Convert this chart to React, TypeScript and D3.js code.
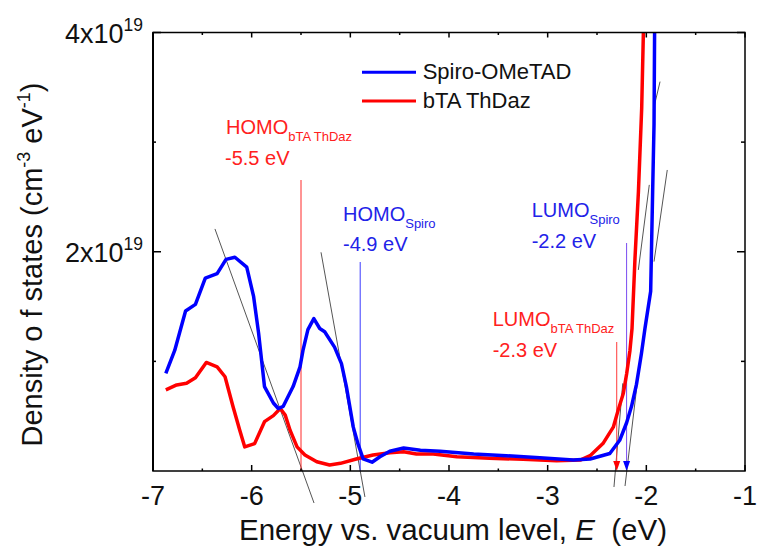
import React from "react";
import * as d3 from "d3";

// Density of states vs. energy (units of 1e19 cm^-3 eV^-1)
const spiro: [number, number][] = [
  [-6.87, 0.89], [-6.78, 1.1], [-6.67, 1.46], [-6.57, 1.52], [-6.47, 1.76],
  [-6.35, 1.8], [-6.26, 1.93], [-6.17, 1.95], [-6.05, 1.86], [-5.98, 1.59],
  [-5.93, 1.26], [-5.87, 0.77], [-5.78, 0.62], [-5.73, 0.57], [-5.68, 0.59],
  [-5.58, 0.77], [-5.51, 0.95], [-5.48, 1.1], [-5.43, 1.29], [-5.37, 1.39],
  [-5.31, 1.3], [-5.26, 1.27], [-5.16, 1.13], [-5.09, 0.98], [-5.04, 0.77],
  [-4.97, 0.4], [-4.92, 0.24], [-4.87, 0.11], [-4.78, 0.08], [-4.7, 0.13],
  [-4.6, 0.18], [-4.46, 0.21], [-4.29, 0.19], [-4.09, 0.18], [-3.75, 0.155],
  [-3.42, 0.14], [-3.08, 0.12], [-2.74, 0.1], [-2.57, 0.11], [-2.37, 0.16],
  [-2.27, 0.28], [-2.2, 0.44], [-2.15, 0.59], [-2.1, 0.79], [-2.05, 1.07],
  [-2.014, 1.3], [-1.956, 1.64], [-1.936, 2.55], [-1.922, 3.16], [-1.915, 4.2],
];

const bta: [number, number][] = [
  [-6.87, 0.74], [-6.76, 0.785], [-6.66, 0.8], [-6.57, 0.85], [-6.46, 0.99],
  [-6.35, 0.95], [-6.27, 0.86], [-6.19, 0.59], [-6.12, 0.37], [-6.07, 0.22],
  [-5.97, 0.25], [-5.87, 0.45], [-5.78, 0.505], [-5.71, 0.57], [-5.66, 0.51],
  [-5.61, 0.37], [-5.54, 0.22], [-5.46, 0.146], [-5.34, 0.085], [-5.21, 0.055],
  [-5.1, 0.07], [-4.94, 0.11], [-4.77, 0.146], [-4.6, 0.167], [-4.46, 0.176],
  [-4.33, 0.155], [-4.16, 0.155], [-3.92, 0.13], [-3.59, 0.116], [-3.25, 0.107],
  [-2.91, 0.094], [-2.67, 0.1], [-2.57, 0.14], [-2.44, 0.25], [-2.335, 0.4],
  [-2.284, 0.56], [-2.233, 0.71], [-2.199, 0.89], [-2.166, 1.1], [-2.145, 1.3],
  [-2.115, 1.94], [-2.08, 2.55], [-2.047, 3.31], [-2.025, 4.2],
];

// Linear extrapolations used to locate the band edges
const tangents: [[number, number], [number, number]][] = [
  [[-6.372, 2.208], [-5.368, -0.292]],
  [[-5.297, 1.995], [-4.852, -0.237]],
  [[-2.239, 0.8], [-2.328, -0.146]],
  [[-2.095, 0.78], [-2.216, -0.137]],
  [[-1.861, 3.552], [-1.929, 3.294]],
  [[-1.788, 2.746], [-1.922, 1.91]],
  [[-1.97, 2.61], [-2.081, 1.834]],
];

// Transport levels (eV)
const homoBta = -5.5;
const homoSpiro = -4.9;
const lumoSpiro = -2.2;
const lumoBta = -2.3;

const xMajor = [-7, -6, -5, -4, -3, -2, -1];
const xMinor = [-6.5, -5.5, -4.5, -3.5, -2.5, -1.5];
const yMajor = [2, 4];
const yMinor = [1, 3];

const BLUE = "#0000ff";
const RED = "#ff0000";
const FONT = "'Liberation Sans', Arial, Helvetica, sans-serif";

export default function App() {
  const x = d3.scaleLinear().domain([-7, -1]).range([153, 745]);
  const y = d3.scaleLinear().domain([0, 4]).range([471, 32.5]);
  const line = d3
    .line<[number, number]>()
    .x((d) => x(d[0]))
    .y((d) => y(d[1]))
    .curve(d3.curveLinear);

  const [x0, x1] = x.range();
  const [y0, y1] = y.range();

  const arrow = (xv: number, color: string) => {
    const px = x(xv);
    const py = y(0);
    return (
      <path
        d={`M${px - 3.5},${py - 10} L${px + 3.5},${py - 10} L${px},${py} Z`}
        fill={color}
      />
    );
  };

  return (
    <svg
      width={761}
      height={548}
      style={{ position: "absolute", left: 0, top: 0, background: "#fff" }}
      fontFamily={FONT}
    >
      <defs>
        <clipPath id="plot">
          <rect x={x0} y={y1} width={x1 - x0} height={y0 - y1} />
        </clipPath>
      </defs>

      {/* band-edge extrapolations */}
      {tangents.map((t, i) => (
        <line
          key={i}
          x1={x(t[0][0])}
          y1={y(t[0][1])}
          x2={x(t[1][0])}
          y2={y(t[1][1])}
          stroke="#555"
          strokeWidth={1}
        />
      ))}

      {/* level markers */}
      <line x1={x(homoBta)} x2={x(homoBta)} y1={180} y2={y(0)} stroke="#ff2a2a" strokeWidth={1} />
      <line x1={x(homoSpiro)} x2={x(homoSpiro)} y1={262} y2={y(0)} stroke="#3a3aff" strokeWidth={1} />
      <line x1={x(lumoSpiro)} x2={x(lumoSpiro)} y1={243} y2={y(0) - 6} stroke="#7a4cf0" strokeWidth={1} />
      <line x1={x(lumoBta)} x2={x(lumoBta)} y1={342} y2={y(0) - 6} stroke="#ff3a3a" strokeWidth={1} />

      <g clipPath="url(#plot)">
        <path d={line(bta) ?? ""} fill="none" stroke={RED} strokeWidth={3.5} strokeLinejoin="round" />
        <path d={line(spiro) ?? ""} fill="none" stroke={BLUE} strokeWidth={3.5} strokeLinejoin="round" />
      </g>

      {arrow(lumoBta, RED)}
      {arrow(lumoSpiro, BLUE)}

      {/* frame */}
      <rect x={x0} y={y1} width={x1 - x0} height={y0 - y1} fill="none" stroke="#000" strokeWidth={1.5} />
      <line x1={x0} x2={x0} y1={y1} y2={y0} stroke="#000" strokeWidth={2} />

      {/* ticks */}
      {xMajor.map((v) => (
        <g key={`xM${v}`}>
          <line x1={x(v)} x2={x(v)} y1={y0} y2={y0 - 6} stroke="#000" strokeWidth={1.5} />
          <line x1={x(v)} x2={x(v)} y1={y1} y2={y1 + 5} stroke="#000" strokeWidth={1.5} />
        </g>
      ))}
      {xMinor.map((v) => (
        <g key={`xm${v}`}>
          <line x1={x(v)} x2={x(v)} y1={y0} y2={y0 - 2.5} stroke="#000" strokeWidth={1.5} />
          <line x1={x(v)} x2={x(v)} y1={y1} y2={y1 + 2.5} stroke="#000" strokeWidth={1.5} />
        </g>
      ))}
      {yMajor.map((v) => (
        <g key={`yM${v}`}>
          <line x1={x0} x2={x0 + 8} y1={y(v)} y2={y(v)} stroke="#000" strokeWidth={1.5} />
          <line x1={x1} x2={x1 - 8} y1={y(v)} y2={y(v)} stroke="#000" strokeWidth={1.5} />
        </g>
      ))}
      {yMinor.map((v) => (
        <g key={`ym${v}`}>
          <line x1={x0} x2={x0 + 3} y1={y(v)} y2={y(v)} stroke="#000" strokeWidth={1.5} />
          <line x1={x1} x2={x1 - 4} y1={y(v)} y2={y(v)} stroke="#000" strokeWidth={1.5} />
        </g>
      ))}

      {/* tick labels */}
      {xMajor.map((v) => (
        <text key={`xl${v}`} x={x(v)} y={505} textAnchor="middle" fontSize={27} fill="#111">
          {`-${Math.abs(v)}`}
        </text>
      ))}
      {yMajor.map((v) => (
        <text key={`yl${v}`} x={143} y={y(v) + 10} textAnchor="end" fontSize={27} fill="#111">
          {`${v}x10`}
          <tspan fontSize={17.5} dy={-11.5}>19</tspan>
        </text>
      ))}

      {/* axis titles */}
      <text x={453} y={540} textAnchor="middle" fontSize={29.5} fill="#111" style={{ whiteSpace: "pre" }}>
        {"Energy vs. vacuum level, "}
        <tspan fontStyle="italic">E</tspan>
        {"  (eV)"}
      </text>
      <text
        transform={`translate(42,264.5) rotate(-90)`}
        textAnchor="middle"
        fontSize={29}
        fill="#111"
      >
        {"Density o f states (cm"}
        <tspan fontSize={18} dy={-12}>-3</tspan>
        <tspan dy={12}>{" eV"}</tspan>
        <tspan fontSize={18} dy={-12}>-1</tspan>
        <tspan dy={12}>)</tspan>
      </text>

      {/* legend */}
      <line x1={362} x2={416} y1={72.3} y2={72.3} stroke={BLUE} strokeWidth={3} />
      <text x={422.7} y={79.3} fontSize={22} fill="#111">Spiro-OMeTAD</text>
      <line x1={362} x2={416} y1={101} y2={101} stroke={RED} strokeWidth={3} />
      <text x={422.7} y={108.3} fontSize={22} fill="#111">bTA ThDaz</text>

      {/* level annotations */}
      <g fill="#ff2020">
        <text x={226} y={134.3} fontSize={20}>
          HOMO<tspan fontSize={13} dy={7}>bTA ThDaz</tspan>
        </text>
        <text x={225} y={165} fontSize={20}>-5.5 eV</text>
      </g>
      <g fill="#2222e8">
        <text x={343} y={220.5} fontSize={20}>
          HOMO<tspan fontSize={13} dy={7}>Spiro</tspan>
        </text>
        <text x={343} y={251} fontSize={20}>-4.9 eV</text>
      </g>
      <g fill="#2222e8">
        <text x={531.7} y={216.7} fontSize={20}>
          LUMO<tspan fontSize={13} dy={7}>Spiro</tspan>
        </text>
        <text x={531.7} y={248.3} fontSize={20}>-2.2 eV</text>
      </g>
      <g fill="#ff2020">
        <text x={492.7} y={325.7} fontSize={20}>
          LUMO<tspan fontSize={13} dy={7}>bTA ThDaz</tspan>
        </text>
        <text x={492.7} y={356.7} fontSize={20}>-2.3 eV</text>
      </g>
    </svg>
  );
}
